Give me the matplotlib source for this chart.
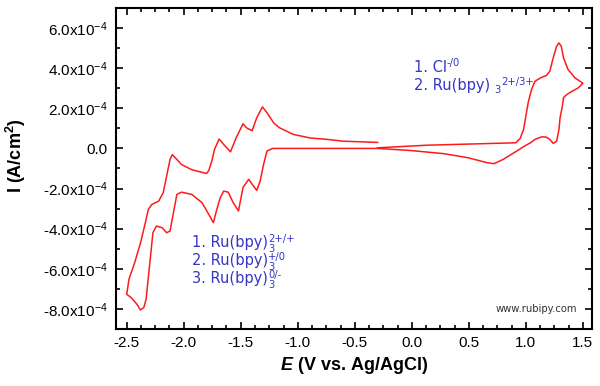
import matplotlib
matplotlib.use("Agg")
import matplotlib.pyplot as plt
from matplotlib.ticker import MultipleLocator, FuncFormatter
from matplotlib.transforms import offset_copy
import numpy as np

# cyclic voltammogram, current in units of 1e-4 A/cm2
# sweep 1: -0.3 V -> +1.5 V
anodic_E = [-0.30, 0.13, 0.71, 0.91, 0.95, 0.98, 1.02, 1.05, 1.08, 1.13, 1.18, 1.21,
            1.24, 1.27, 1.29, 1.31, 1.33, 1.37, 1.43, 1.50]
anodic_I = [0.03, 0.16, 0.25, 0.28, 0.50, 0.95, 2.28, 2.94, 3.35, 3.52, 3.64, 3.85,
            4.52, 5.10, 5.26, 5.10, 4.52, 3.93, 3.52, 3.25]

# sweep 2: +1.5 V -> -2.5 V
cathodic_E = [1.46, 1.39, 1.36, 1.33, 1.32, 1.30, 1.29, 1.27, 1.24, 1.21, 1.18, 1.14,
              1.08, 1.04, 0.98, 0.92, 0.80, 0.72, 0.66, 0.49, 0.28, -0.02, -0.30,
              -1.22, -1.27, -1.30, -1.33, -1.36, -1.40, -1.43, -1.48, -1.52, -1.57,
              -1.61, -1.65, -1.68, -1.71, -1.74, -1.78, -1.84, -1.93, -2.02, -2.06,
              -2.09, -2.12, -2.15, -2.19, -2.24, -2.27, -2.30, -2.33, -2.35, -2.38,
              -2.41, -2.46, -2.50]
cathodic_I = [3.02, 2.80, 2.69, 2.53, 2.11, 1.53, 0.95, 0.36, 0.25, 0.45, 0.56, 0.58,
              0.45, 0.28, 0.09, -0.13, -0.55, -0.76, -0.71, -0.46, -0.26, -0.10, 0.0,
              0.0, -0.13, -0.80, -1.63, -2.09, -1.79, -1.54, -1.94, -3.12, -2.66,
              -2.18, -2.13, -2.46, -3.04, -3.70, -3.29, -2.70, -2.29, -2.18, -2.29,
              -3.20, -4.12, -4.20, -3.95, -3.87, -4.20, -5.86, -7.52, -7.93, -8.05,
              -7.77, -7.44, -7.27]

# sweep 3: -2.5 V -> -0.3 V
return_E = [-2.48, -2.43, -2.38, -2.34, -2.31, -2.28, -2.22, -2.18, -2.15, -2.12,
            -2.10, -2.06, -2.02, -1.93, -1.80, -1.78, -1.75, -1.73, -1.69, -1.65,
            -1.59, -1.54, -1.48, -1.45, -1.40, -1.36, -1.31, -1.27, -1.21, -1.16,
            -1.04, -0.89, -0.74, -0.60, -0.30]
return_I = [-6.52, -5.69, -4.73, -3.79, -3.04, -2.79, -2.63, -2.21, -1.38, -0.55,
            -0.31, -0.55, -0.80, -1.06, -1.25, -1.10, -0.55, -0.05, 0.47, 0.20,
            -0.17, 0.53, 1.23, 1.03, 0.88, 1.53, 2.07, 1.78, 1.26, 1.03,
            0.70, 0.52, 0.45, 0.36, 0.30]

x_ticks = [-2.5, -2.0, -1.5, -1.0, -0.5, 0.0, 0.5, 1.0, 1.5]
y_ticks = [-8e-4, -6e-4, -4e-4, -2e-4, 0.0, 2e-4, 4e-4, 6e-4]

# redox couples: (base, subscript, superscript)
low_labels = [("1. Ru(bpy)", "3", "2+/+"),
              ("2. Ru(bpy)", "3", "+/0"),
              ("3. Ru(bpy)", "3", "0/-")]
high_labels = [("1. Cl", None, "-/0"),
               ("2. Ru(bpy) ", "3", "2+/3+")]

plt.rcParams["font.family"] = ["Liberation Sans", "DejaVu Sans"]
plt.rcParams["mathtext.fontset"] = "custom"
plt.rcParams["mathtext.rm"] = "Liberation Sans"
plt.rcParams["mathtext.it"] = "Liberation Sans:italic:bold"
plt.rcParams["mathtext.bf"] = "Liberation Sans:bold"

E = np.array(anodic_E + cathodic_E + return_E)
I = np.array(anodic_I + cathodic_I + return_I) * 1e-4

fig = plt.figure(figsize=(6.0, 3.86), dpi=100)
ax = fig.add_axes([0.1933, 0.1477, 0.7934, 0.8316])

ax.plot(E, I, color="#ff1a1a", lw=1.1, solid_joinstyle="round")

ax.set_xlim(-2.594, 1.58)
ax.set_ylim(-9e-4, 7e-4)
ax.set_xticks(x_ticks)
ax.set_yticks(y_ticks)
ax.xaxis.set_minor_locator(MultipleLocator(0.125))
ax.yaxis.set_minor_locator(MultipleLocator(1e-4))
ax.xaxis.set_major_formatter(FuncFormatter(lambda v, p: f"{v:.1f}"))


def yfmt(v, p):
    if abs(v) < 1e-9:
        return "0.0"
    return f"{v * 1e4:.1f}x10$^{{-4}}$"


ax.yaxis.set_major_formatter(FuncFormatter(yfmt))

for s in ax.spines.values():
    s.set_linewidth(1.5)
ax.tick_params(which="both", direction="in", top=True, right=True, width=1.2,
               labelsize=11)
ax.tick_params(which="major", length=5)
ax.tick_params(which="minor", length=3)
ax.tick_params(axis="y", which="major", pad=6)
ax.tick_params(axis="x", which="major", pad=5)

ax.set_xlabel("$E$ (V vs. Ag/AgCl)", fontsize=13, fontweight="bold")
ax.set_ylabel("I (A/cm$\\mathbf{^2}$)", fontsize=13, fontweight="bold")
ax.yaxis.set_label_coords(-0.185, 0.54)

blue = "#3535c8"
renderer = fig.canvas.get_renderer()


def chem_label(x, y, base, sub, sup, sub_drop, stacked):
    # base text, then small sub/superscript placed right after it (offsets in points)
    kw = dict(color=blue, family="DejaVu Sans", va="baseline")
    t = ax.text(x, y, base, transform=ax.transAxes, fontsize=10.5, **kw)
    w = t.get_window_extent(renderer).width * 72 / fig.dpi
    dx = w + 0.3
    if sub:
        ts = ax.text(x, y, sub, fontsize=7.2,
                     transform=offset_copy(ax.transAxes, fig, dx, -sub_drop, units="points"), **kw)
        if not stacked:
            dx += ts.get_window_extent(renderer).width * 72 / fig.dpi + 0.5
    if sup:
        ax.text(x, y, sup, fontsize=7.2,
                transform=offset_copy(ax.transAxes, fig, dx, 3.7, units="points"), **kw)


for k, (b, sb, sp) in enumerate(low_labels):
    chem_label(0.159, 0.256 - k * 0.057, b, sb, sp, 3.6, True)
for k, (b, sb, sp) in enumerate(high_labels):
    chem_label(0.625, 0.802 - k * 0.057, b, sb, sp, 2.4, False)

ax.text(0.968, 0.054, "www.rubipy.com", transform=ax.transAxes, color="#333333",
        fontsize=7.2, family="DejaVu Sans", ha="right", va="baseline")

fig.savefig("out.png", dpi=100)
